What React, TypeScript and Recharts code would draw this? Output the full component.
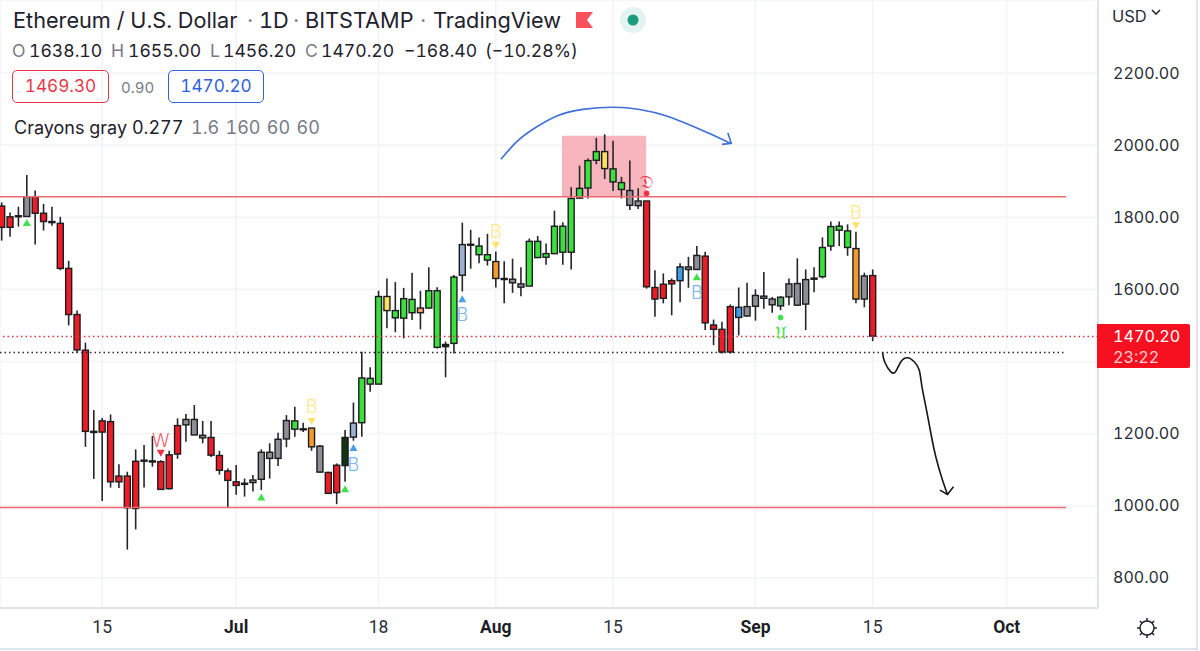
import {
  ComposedChart,
  Bar,
  Line,
  XAxis,
  YAxis,
  CartesianGrid,
  ReferenceLine,
  ReferenceArea,
  ReferenceDot,
} from "recharts"

// day offset from Jun 3, one candle per day up to Sep 15
const opens = [
  1831, 1801, 1804, 1802, 1857, 1811, 1788, 1783, 1658, 1530, 1431, 1206, 1235, 1233, 1082, 1082, 1123, 1126, 1124, 1122, 1141,
  1222, 1224, 1196, 1195, 1189, 1139, 1096, 1066, 1062, 1071, 1073, 1131, 1131, 1185, 1212, 1213, 1215, 1165, 1092, 1036, 1111,
  1190, 1230, 1337, 1337, 1541, 1521, 1520, 1535, 1535, 1548, 1439, 1447, 1450, 1639, 1724, 1696, 1681, 1677, 1630, 1618, 1606,
  1609, 1688, 1689, 1699, 1703, 1703, 1853, 1881, 1958, 1935, 1934, 1896, 1874, 1845, 1845, 1605, 1614, 1624, 1624, 1662, 1655,
  1692, 1501, 1489, 1426, 1550, 1526, 1553, 1581, 1573, 1554, 1579, 1556, 1559, 1631, 1635, 1720, 1764, 1762, 1713, 1573, 1638.1,
]
const closes = [
  1772, 1772, 1803, 1857, 1811, 1788, 1785, 1658, 1530, 1432, 1206, 1203, 1204, 1066, 1066, 994, 992, 1124, 1121, 1045, 1047,
  1143, 1239, 1239, 1188, 1140, 1098, 1070, 1056, 1060, 1064, 1148, 1148, 1184, 1236, 1235, 1212, 1163, 1093, 1034, 1112, 1189,
  1229, 1354, 1353, 1580, 1580, 1541, 1574, 1572, 1548, 1596, 1596, 1441, 1634, 1724, 1725, 1720, 1696, 1630, 1628, 1628, 1615,
  1733, 1733, 1699, 1775, 1775, 1852, 1880, 1957, 1982, 1982, 1898, 1877, 1833, 1832, 1607, 1573, 1575, 1615, 1662, 1655, 1694,
  1507, 1489, 1426, 1552, 1522, 1552, 1583, 1575, 1557, 1578, 1615, 1616, 1627, 1628, 1716, 1774, 1775, 1716, 1573, 1637, 1470.2,
]
const highs = [
  1841, 1813, 1829, 1917, 1874, 1837, 1829, 1801, 1679, 1541, 1452, 1265, 1243, 1253, 1115, 1094, 1156, 1168, 1193, 1126, 1152,
  1242, 1254, 1279, 1235, 1235, 1152, 1103, 1113, 1075, 1085, 1156, 1173, 1202, 1251, 1274, 1230, 1215, 1168, 1094, 1117, 1210,
  1286, 1427, 1384, 1596, 1630, 1620, 1604, 1646, 1596, 1661, 1606, 1455, 1640, 1785, 1765, 1744, 1754, 1705, 1678, 1685, 1661,
  1741, 1748, 1727, 1818, 1786, 1883, 1943, 1963, 2020, 2030, 2012, 1912, 1957, 1880, 1845, 1653, 1644, 1630, 1672, 1690, 1720,
  1704, 1516, 1510, 1558, 1605, 1618, 1600, 1648, 1579, 1581, 1630, 1686, 1655, 1661, 1744, 1788, 1788, 1780, 1760, 1646, 1655,
]
const lows = [
  1735, 1746, 1774, 1802, 1724, 1763, 1776, 1653, 1500, 1424, 1163, 1074, 1013, 1050, 1049, 878, 934, 1050, 1108, 1043, 1045,
  1130, 1177, 1196, 1173, 1135, 1086, 994, 1030, 1025, 1039, 1043, 1075, 1110, 1162, 1191, 1204, 1152, 1091, 1032, 1004, 1066,
  1180, 1191, 1316, 1337, 1492, 1481, 1464, 1515, 1489, 1547, 1436, 1356, 1422, 1594, 1657, 1672, 1666, 1605, 1561, 1590, 1581,
  1609, 1687, 1668, 1698, 1668, 1655, 1851, 1852, 1947, 1906, 1873, 1852, 1820, 1823, 1602, 1524, 1561, 1528, 1564, 1604, 1655,
  1487, 1445, 1422, 1422, 1472, 1524, 1513, 1546, 1535, 1542, 1556, 1554, 1487, 1592, 1630, 1707, 1720, 1693, 1561, 1550, 1456.2,
]
const tones = [
  "red", "red", "ink", "gray", "red", "red", "ink", "red", "red", "red", "red", "ink", "red", "red", "red", "red", "red", "ink", "ink", "red", "red",
  "red", "gray", "gray", "gray", "red", "red", "red", "red", "ink", "gray", "gray", "gray", "gray", "gray", "green", "ink", "orange", "gray", "red", "red", "dark",
  "steel", "green", "green", "green", "yellow", "green", "green", "green", "peach", "green", "green", "ink", "green", "steel", "ink", "green", "green", "orange", "ink", "gray", "gray",
  "green", "green", "green", "green", "green", "green", "green", "green", "green", "yellow", "green", "green", "gray", "gray", "red", "red", "red", "red", "blue", "gray", "gray",
  "red", "red", "red", "red", "blue", "gray", "gray", "gray", "gray", "moss", "gray", "gray", "gray", "ink", "green", "green", "green", "green", "orange", "gray", "red",
]
const toneColors: Record<string, string> = {
  red: "#ee1c27",
  gray: "#8e8f96",
  green: "#3be03f",
  ink: "#1c1c1c",
  orange: "#f39a2e",
  yellow: "#fbe05f",
  peach: "#f5a36b",
  steel: "#9cb0d4",
  blue: "#3f9ce6",
  dark: "#0f3512",
  moss: "#5aa865",
}

const candles = opens.map((open, i) => ({
  i,
  open,
  close: closes[i],
  high: highs[i],
  low: lows[i],
  tone: tones[i],
}))

const yTicks = [800, 1000, 1200, 1400, 1600, 1800, 2000, 2200]
const xTicks = [12, 28, 45, 59, 73, 90, 104, 120]
const xTickLabels = ["15", "Jul", "18", "Aug", "15", "Sep", "15", "Oct"]

// hand drawn strokes, in day offset / price
const arcDays = [59.61, 61.48, 63.43, 66.29, 69.38, 72.95, 76.18, 79.39, 82.14, 84.52, 86.99]
const arcPrices = [1961, 2009, 2044, 2081, 2099, 2105, 2099, 2081, 2056, 2032, 2005]
const arcHeadDays = [85.99, 87.11, 86.7]
const arcHeadPrices = [2002, 2005, 2034]
const sketchDays = [105.18, 105.42, 106.17, 106.77, 107.37, 108.16, 108.96, 109.55, 109.88, 110.35, 110.95, 111.54, 112.33, 112.93]
const sketchPrices = [1425, 1399, 1371, 1373, 1399, 1410, 1399, 1376, 1330, 1274, 1200, 1135, 1071, 1031]
const sketchHeadDays = [112.02, 112.93, 113.64]
const sketchHeadPrices = [1043, 1031, 1052]

const zip = (days: number[], prices: number[]) => days.map((i, k) => ({ i, price: prices[k] }))

// indicator signs above / below the candles
const triangles = [
  { i: 3, price: 1785, up: true, color: "#3ee04a" },
  { i: 31, price: 1024, up: true, color: "#3ee04a" },
  { i: 41, price: 1047, up: true, color: "#3ee04a" },
  { i: 83, price: 1635, up: true, color: "#3ee04a" },
  { i: 42, price: 1161, up: true, color: "#4a9fe8" },
  { i: 55, price: 1574, up: true, color: "#4a9fe8" },
  { i: 37, price: 1233, up: false, color: "#fde36a" },
  { i: 59, price: 1722, up: false, color: "#fde36a" },
  { i: 102, price: 1776, up: false, color: "#fde36a" },
  { i: 19, price: 1145, up: false, color: "#ef3040" },
]
const signs = [
  { i: 42, price: 1114, text: "B", color: "#7ab8ee" },
  { i: 55, price: 1531, text: "B", color: "#7ab8ee" },
  { i: 83, price: 1590, text: "B", color: "#7ab8ee" },
  { i: 37, price: 1274, text: "B", color: "#fde88a" },
  { i: 59, price: 1760, text: "B", color: "#fde88a" },
  { i: 102, price: 1812, text: "B", color: "#fde88a" },
  { i: 19, price: 1180, text: "W", color: "#f0606c" },
  { i: 77, price: 1898, text: "𝔇", color: "#ef3040" },
  { i: 93, price: 1479, text: "𝔘", color: "#4be04f" },
]
const dots = [
  { i: 77, price: 1866, color: "#ef3040" },
  { i: 93, price: 1522, color: "#3ee04a" },
]

const BODY_WIDTH = 6

function Candle(props: any) {
  const { x, y, width, height, payload } = props
  const perUnit = height / (payload.high - payload.low)
  const top = y + (payload.high - Math.max(payload.open, payload.close)) * perUnit
  const bodyH = Math.max(Math.abs(payload.open - payload.close) * perUnit, 1)
  const cx = x + (width || 0) / 2
  return (
    <g>
      <line x1={cx} x2={cx} y1={y} y2={y + height} stroke="#26262a" strokeWidth={1.6} />
      <rect
        x={cx - BODY_WIDTH / 2}
        y={top}
        width={BODY_WIDTH}
        height={bodyH}
        fill={toneColors[payload.tone]}
        stroke="#1c1c1e"
        strokeWidth={1.4}
      />
    </g>
  )
}

function TimeTick({ x, y, payload, index }: any) {
  const label = xTickLabels[xTicks.indexOf(payload.value)] ?? ""
  const isMonth = isNaN(Number(label))
  return (
    <text
      key={index}
      x={x}
      y={y + 13}
      textAnchor="middle"
      fontFamily="Roboto"
      fontSize={17.5}
      fontWeight={isMonth ? 700 : 400}
      fill={isMonth ? "#1c1e26" : "#2a2e39"}
    >
      {label}
    </text>
  )
}

const headerFont = "Inter, sans-serif"
const muted = "#787b86"
const base: React.CSSProperties = { position: "absolute", fontFamily: headerFont, whiteSpace: "pre", color: "#1e222d" }

// one piece of the title / OHLC rows at its own left edge
function Piece({ left, top, size, color, spacing, children }: any) {
  return <div style={{ ...base, left, top, fontSize: size, color: color ?? base.color, wordSpacing: spacing }}>{children}</div>
}

function Header() {
  return (
    <>
      <Piece left={13} top={7} size={21.7}>Ethereum / U.S. Dollar</Piece>
      <Piece left={247} top={7} size={21.7} color={muted}>·</Piece>
      <Piece left={259} top={7} size={21.7}>1D</Piece>
      <Piece left={293} top={7} size={21.7} color={muted}>·</Piece>
      <Piece left={305} top={7} size={21.7}>BITSTAMP</Piece>
      <Piece left={420} top={7} size={21.7} color={muted}>·</Piece>
      <Piece left={433} top={7} size={21.7}>TradingView</Piece>

      <Piece left={12} top={40} size={17.6} color={muted}>O</Piece>
      <Piece left={29} top={40} size={17.6}>1638.10</Piece>
      <Piece left={111} top={40} size={17.6} color={muted}>H</Piece>
      <Piece left={128} top={40} size={17.6}>1655.00</Piece>
      <Piece left={210} top={40} size={17.6} color={muted}>L</Piece>
      <Piece left={223} top={40} size={17.6}>1456.20</Piece>
      <Piece left={305} top={40} size={17.6} color={muted}>C</Piece>
      <Piece left={321} top={40} size={17.6}>1470.20</Piece>
      <Piece left={404} top={40} size={17.6}>−168.40</Piece>
      <Piece left={485} top={40} size={17.6}>(−10.28%)</Piece>

      <div style={{ ...base, left: 12, top: 70, width: 97, height: 33, boxSizing: "border-box", border: "1.5px solid #e6394b", borderRadius: 5, color: "#e6394b", fontSize: 17.2, lineHeight: "30px", textAlign: "center" }}>
        1469.30
      </div>
      <div style={{ ...base, left: 121, top: 78, fontSize: 15, color: muted }}>0.90</div>
      <div style={{ ...base, left: 168, top: 70, width: 96, height: 33, boxSizing: "border-box", border: "1.5px solid #2f62e0", borderRadius: 5, color: "#2f62e0", fontSize: 17.2, lineHeight: "30px", textAlign: "center" }}>
        1470.20
      </div>
      <Piece left={14} top={117} size={18}>Crayons gray 0.277</Piece>
      <Piece left={191} top={117} size={18} color={muted} spacing={1.5}>1.6 160 60 60</Piece>
    </>
  )
}

export default function App() {
  return (
    <div style={{ position: "absolute", left: 0, top: 0, width: 1200, height: 651, background: "#fff", overflow: "hidden", fontVariantNumeric: "tabular-nums" }}>
      <ComposedChart
        width={1200}
        height={651}
        data={candles}
        margin={{ top: 0, right: 0, bottom: 0, left: 0 }}
      >
        <CartesianGrid stroke="#f1f3f7" strokeWidth={1.5} />
        <XAxis
          dataKey="i"
          type="number"
          domain={[-0.2, 130.9]}
          allowDataOverflow
          ticks={xTicks}
          interval={0}
          height={43}
          tick={<TimeTick />}
          tickLine={false}
          axisLine={{ stroke: "#e0e3eb", strokeWidth: 2 }}
          tickMargin={6}
        />
        <YAxis
          orientation="right"
          type="number"
          domain={[716, 2402.5]}
          allowDataOverflow
          ticks={yTicks}
          interval={0}
          width={102}
          tickFormatter={(v: number) => (v === 1400 ? "" : v.toFixed(2))}
          tick={{ fill: "#2a2e39", fontSize: 16, fontFamily: "Inter" }}
          tickLine={false}
          tickMargin={9}
          axisLine={{ stroke: "#e0e3eb", strokeWidth: 2 }}
        />

        <ReferenceArea x1={66.9} x2={76.95} y1={1857} y2={2026} fill="#f7a8b2" fillOpacity={0.85} stroke="none" />
        <ReferenceLine segment={[{ x: -0.2, y: 1857 }, { x: 127.1, y: 1857 }]} stroke="#ee6a72" strokeWidth={1.5} />
        <ReferenceLine segment={[{ x: -0.2, y: 995 }, { x: 127.1, y: 995 }]} stroke="#ee6a72" strokeWidth={1.5} />
        <ReferenceLine segment={[{ x: -0.2, y: 1425 }, { x: 127.1, y: 1425 }]} stroke="#2a2a2a" strokeWidth={1.5} strokeDasharray="1.5 3" />
        <ReferenceLine y={1469} stroke="#e8303c" strokeWidth={1.5} strokeDasharray="1.5 3" />

        <Bar dataKey={(d: any) => [d.low, d.high]} barSize={6} shape={<Candle />} isAnimationActive={false} />

        <Line data={zip(arcDays, arcPrices)} dataKey="price" type="natural" stroke="#3f6fd8" strokeWidth={1.6} dot={false} activeDot={false} isAnimationActive={false} />
        <Line data={zip(arcHeadDays, arcHeadPrices)} dataKey="price" type="linear" stroke="#3f6fd8" strokeWidth={1.6} dot={false} activeDot={false} isAnimationActive={false} />
        <Line data={zip(sketchDays, sketchPrices)} dataKey="price" type="natural" stroke="#16161a" strokeWidth={1.6} dot={false} activeDot={false} isAnimationActive={false} />
        <Line data={zip(sketchHeadDays, sketchHeadPrices)} dataKey="price" type="linear" stroke="#16161a" strokeWidth={1.6} dot={false} activeDot={false} isAnimationActive={false} />

        {triangles.map((t, k) => (
          <ReferenceDot
            key={"t" + k}
            x={t.i}
            y={t.price}
            shape={(p: any) => (
              <path
                d={t.up ? `M${p.cx - 4} ${p.cy + 3.5}L${p.cx + 4} ${p.cy + 3.5}L${p.cx} ${p.cy - 3.5}Z` : `M${p.cx - 4} ${p.cy - 3.5}L${p.cx + 4} ${p.cy - 3.5}L${p.cx} ${p.cy + 3.5}Z`}
                fill={t.color}
              />
            )}
          />
        ))}
        {dots.map((d, k) => (
          <ReferenceDot key={"d" + k} x={d.i} y={d.price} r={2.8} fill={d.color} stroke="none" />
        ))}
        {signs.map((s, k) => (
          <ReferenceDot
            key={"s" + k}
            x={s.i}
            y={s.price}
            shape={(p: any) => (
              <text x={p.cx} y={p.cy + 6.5} textAnchor="middle" fontFamily="Inter, 'DejaVu Sans'" fontWeight={300} fontSize={18} fill={s.color}>
                {s.text}
              </text>
            )}
          />
        ))}
      </ComposedChart>

      <Header />
      <svg style={{ position: "absolute", left: 0, top: 0, pointerEvents: "none" }} width={1200} height={651}>
        <path d="M576 12 H593 L587 20 L593 28 H576 Z" fill="#f9505c" />
        <circle cx={633} cy={20} r={13} fill="#e3f3ef" />
        <circle cx={633} cy={20} r={5.5} fill="#1b9a7c" />
        <line x1={1197} x2={1197} y1={0} y2={651} stroke="#e0e3eb" strokeWidth={2} />
        <line x1={0} x2={1197} y1={649} y2={649} stroke="#e0e3eb" strokeWidth={2} />
        <circle cx={1147} cy={628} r={7} fill="none" stroke="#1e222d" strokeWidth={1.5} />
        {[0, 45, 90, 135, 180, 225, 270, 315].map((a) => (
          <line key={a} x1={1147} y1={618} x2={1147} y2={621} stroke="#1e222d" strokeWidth={1.5} transform={`rotate(${a} 1147 628)`} />
        ))}
      </svg>
      <div style={{ position: "absolute", left: 1112, top: 6, fontFamily: headerFont, fontSize: 16.5, color: "#2a2e39" }}>
        USD<svg width={12} height={10} style={{ marginLeft: 3, marginBottom: 4 }}><path d="M2 2 L6 6 L10 2" fill="none" stroke="#2a2e39" strokeWidth={1.6} /></svg>
      </div>
      <div style={{ position: "absolute", left: 1097, top: 324, width: 93, height: 44, background: "#f7101f", borderRadius: "0 2px 2px 0", color: "#fff", fontFamily: headerFont, fontSize: 16.2, lineHeight: "21px", paddingTop: 2, boxSizing: "border-box", paddingLeft: 16 }}>
        1470.20
        <div style={{ color: "#ffd0d4" }}>23:22</div>
      </div>
    </div>
  )
}
